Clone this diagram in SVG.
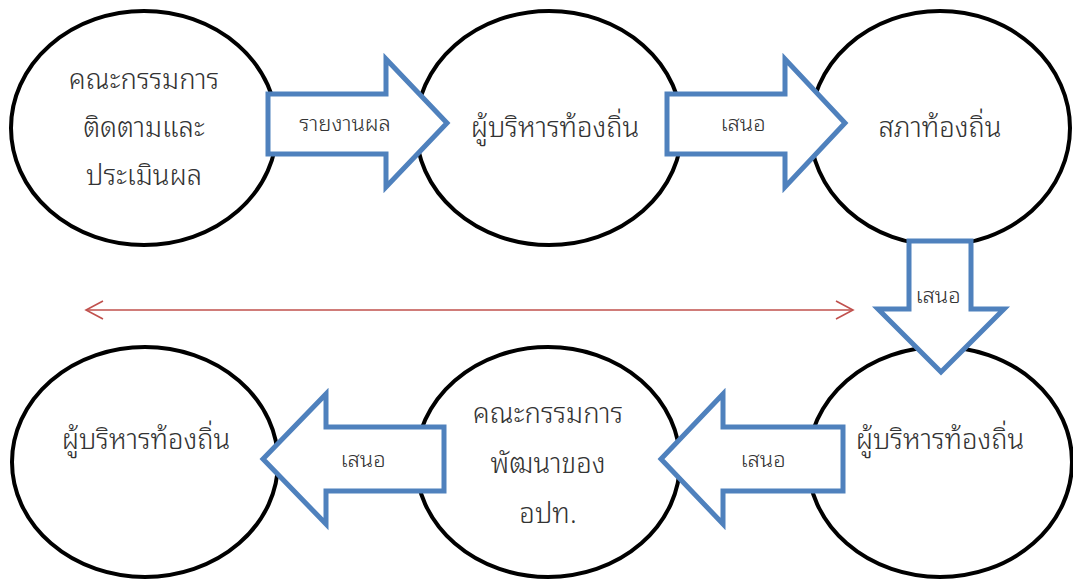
<svg xmlns="http://www.w3.org/2000/svg" width="1073" height="579" viewBox="0 0 1073 579">
<defs>
<style>
.node{fill:#fff;stroke:#000;stroke-width:4}
.barrow{fill:#fff;stroke:#4f81bd;stroke-width:5;stroke-linejoin:miter}
.t{font-family:"Noto Sans Thai Looped","Noto Sans Thai","Noto Sans","DejaVu Sans",sans-serif;font-size:27.5px;font-weight:300;fill:#333;text-anchor:middle;dominant-baseline:central}
.l{font-family:"Noto Sans Thai Looped","Noto Sans Thai","Noto Sans","DejaVu Sans",sans-serif;font-size:22px;font-weight:300;fill:#333;text-anchor:middle;dominant-baseline:central}
.red{stroke:#c0504d;stroke-width:1.6;fill:none}
</style>
<marker id="openhead" viewBox="0 0 20 20" refX="18" refY="10" markerWidth="20" markerHeight="20" markerUnits="userSpaceOnUse" orient="auto-start-reverse">
<path d="M1,1 L18,10 L1,19" fill="none" stroke="#c0504d" stroke-width="1.6"/>
</marker>
</defs>
<rect width="1073" height="579" fill="#fff"/>
<g id="n1"><ellipse class="node" cx="144" cy="128" rx="133" ry="117"/>
<text class="t" x="144" y="77">คณะกรรมการ</text><text class="t" x="144" y="125">ติดตามและ</text><text class="t" x="144" y="173">ประเมินผล</text></g>
<g id="n2"><ellipse class="node" cx="549" cy="128" rx="133" ry="117"/>
<text class="t" x="555" y="125">ผู้บริหารท้องถิ่น</text></g>
<g id="n3"><ellipse class="node" cx="940" cy="128" rx="130" ry="117"/>
<text class="t" x="940" y="125">สภาท้องถิ่น</text></g>
<g id="n4"><ellipse class="node" cx="940" cy="462" rx="132" ry="115"/>
<text class="t" x="940" y="437">ผู้บริหารท้องถิ่น</text></g>
<g id="n5"><ellipse class="node" cx="548" cy="462" rx="132" ry="115"/>
<text class="t" x="548" y="411">คณะกรรมการ</text><text class="t" x="548" y="461">พัฒนาของ</text><text class="t" x="548" y="511">อปท.</text></g>
<g id="n6"><ellipse class="node" cx="145" cy="462" rx="133" ry="115"/>
<text class="t" x="146" y="437">ผู้บริหารท้องถิ่น</text></g>
<g id="connectors">
<g id="a1"><polygon class="barrow" points="268,94 386,94 386,59 447,123 386,187 386,154 268,154"/><text class="l" x="345" y="121">รายงานผล</text></g>
<g id="a2"><polygon class="barrow" points="667,94 785,94 785,59 845,123 785,187 785,154 667,154"/><text class="l" x="743" y="121">เสนอ</text></g>
<g id="a3"><polygon class="barrow" points="909,241 971,241 971,309 1004,309 941,372 878,309 909,309"/><text class="l" x="938" y="293">เสนอ</text></g>
<g id="a4"><polygon class="barrow" points="843,427 723,427 723,394 661,459 723,524 723,491 843,491"/><text class="l" x="763" y="457">เสนอ</text></g>
<g id="a5"><polygon class="barrow" points="444,427 326,427 326,394 263,459 326,524 326,491 444,491"/><text class="l" x="363" y="457">เสนอ</text></g>
<line id="r1" class="red" x1="86" y1="310" x2="853" y2="310" marker-start="url(#openhead)" marker-end="url(#openhead)"/>
</g>
</svg>
